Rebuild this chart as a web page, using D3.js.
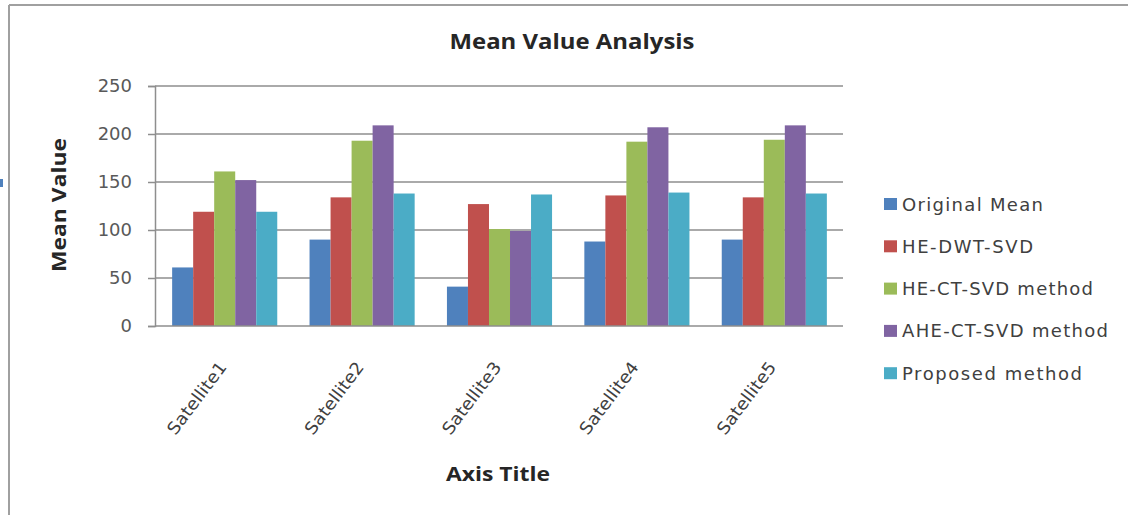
<!DOCTYPE html>
<html>
<head>
<meta charset="utf-8">
<script src="https://cdn.jsdelivr.net/npm/d3@7"></script>
<style>
  html, body { margin: 0; padding: 0; background: #fff; }
  svg { display: block; }
</style>
</head>
<body>
<svg id="chart" width="1128" height="515"></svg>
<script>
// ---- data ----
const categories = ["Satellite1", "Satellite2", "Satellite3", "Satellite4", "Satellite5"];
const seriesNames = ["Original Mean", "HE-DWT-SVD", "HE-CT-SVD method", "AHE-CT-SVD method", "Proposed method"];
const originalMean = [61, 90, 41, 88, 90];
const heDwtSvd     = [119, 134, 127, 136, 134];
const heCtSvd      = [161, 193, 101, 192, 194];
const aheCtSvd     = [152, 209, 99, 207, 209];
const proposed     = [119, 138, 137, 139, 138];
const yTicks = [0, 50, 100, 150, 200, 250];
const colors = ["#4F81BD", "#C0504D", "#9BBB59", "#8064A2", "#4BACC6"];
const legendWidths = [141, 131, 191, 206, 180];

const seriesValues = [originalMean, heDwtSvd, heCtSvd, aheCtSvd, proposed];

const svg = d3.select("#chart");

// frame
svg.append("line").attr("x1", 9).attr("y1", 5).attr("x2", 9).attr("y2", 515)
  .attr("stroke", "#a0a0a0").attr("stroke-width", 2);
svg.append("line").attr("x1", 9).attr("y1", 5).attr("x2", 1128).attr("y2", 5)
  .attr("stroke", "#a0a0a0").attr("stroke-width", 2);
svg.append("rect").attr("x", 0).attr("y", 179).attr("width", 3).attr("height", 8)
  .attr("fill", "#4F81BD");

const plotLeft = 155, plotRight = 843, plotTop = 86, plotBottom = 326;

const x0 = d3.scaleBand().domain(categories).range([plotLeft + 1, plotRight])
  .paddingInner(0.235).paddingOuter(0.1175);
const x1 = d3.scaleBand().domain(d3.range(seriesNames.length)).range([0, x0.bandwidth()]);
const y = d3.scaleLinear().domain([0, 250]).range([plotBottom, plotTop]);

// gridlines
svg.append("g").selectAll("line").data(yTicks.filter(t => t > 0)).join("line")
  .attr("x1", plotLeft).attr("x2", plotRight)
  .attr("y1", d => y(d)).attr("y2", d => y(d))
  .attr("stroke", "#8e8e8e").attr("stroke-width", 1.5);

// bars
const groups = svg.append("g").selectAll("g").data(categories).join("g")
  .attr("transform", d => `translate(${x0(d)},0)`);
groups.selectAll("rect")
  .data((c, ci) => seriesValues.map((vals, si) => ({ si, v: vals[ci] })))
  .join("rect")
  .attr("x", d => x1(d.si))
  .attr("width", x1.bandwidth())
  .attr("y", d => y(d.v))
  .attr("height", d => y(0) - y(d.v))
  .attr("fill", d => colors[d.si]);

// y axis
const yAxis = d3.axisLeft(y).tickValues(yTicks).tickSize(7).tickPadding(16);
const gy = svg.append("g").attr("transform", `translate(${plotLeft},0)`).call(yAxis);
gy.select(".domain").attr("stroke", "#8e8e8e").attr("stroke-width", 1.5);
gy.selectAll(".tick line").attr("stroke", "#8e8e8e").attr("stroke-width", 1.5);
gy.selectAll(".tick text")
  .attr("font-family", "DejaVu Sans").attr("font-size", 18).attr("fill", "#595959");

// x axis
const xAxis = d3.axisBottom(x0).tickSize(0).tickFormat("");
const gx = svg.append("g").attr("transform", `translate(0,${plotBottom})`).call(xAxis);
gx.select(".domain").attr("stroke", "#8e8e8e").attr("stroke-width", 1.5)
  .attr("d", `M${plotLeft},0H${plotRight}`);

// x labels
svg.append("g").selectAll("text").data(categories).join("text")
  .attr("transform", d => `translate(${x0(d) + x0.bandwidth() / 2 - 28},398) rotate(-53)`)
  .attr("text-anchor", "middle").attr("dominant-baseline", "central")
  .attr("font-family", "DejaVu Sans").attr("font-size", 17).attr("fill", "#404040")
  .attr("textLength", 86).attr("lengthAdjust", "spacingAndGlyphs")
  .text(d => d);

// titles
svg.append("text").attr("x", 572).attr("y", 49).attr("text-anchor", "middle")
  .attr("font-family", "Open Sans").attr("font-weight", "bold").attr("font-size", 21)
  .attr("fill", "#262626").attr("textLength", 245).attr("lengthAdjust", "spacingAndGlyphs")
  .text("Mean Value Analysis");

svg.append("text").attr("x", 498).attr("y", 481).attr("text-anchor", "middle")
  .attr("font-family", "Open Sans").attr("font-weight", "bold").attr("font-size", 20)
  .attr("fill", "#262626").attr("textLength", 104).attr("lengthAdjust", "spacingAndGlyphs")
  .text("Axis Title");

svg.append("text").attr("transform", "translate(66,205) rotate(-90)")
  .attr("text-anchor", "middle")
  .attr("font-family", "Open Sans").attr("font-weight", "bold").attr("font-size", 20)
  .attr("fill", "#262626").attr("textLength", 134).attr("lengthAdjust", "spacingAndGlyphs")
  .text("Mean Value");

// legend
const legend = svg.append("g").selectAll("g").data(seriesNames).join("g")
  .attr("transform", (d, i) => `translate(884,${204 + i * 42.3})`);
legend.append("rect").attr("x", 0).attr("y", -6).attr("width", 13).attr("height", 12)
  .attr("fill", (d, i) => colors[i]);
legend.append("text").attr("x", 18).attr("y", 0).attr("dominant-baseline", "central")
  .attr("font-family", "DejaVu Sans").attr("font-size", 18).attr("fill", "#404040")
  .attr("textLength", (d, i) => legendWidths[i]).attr("lengthAdjust", "spacing")
  .text(d => d);
</script>
</body>
</html>
